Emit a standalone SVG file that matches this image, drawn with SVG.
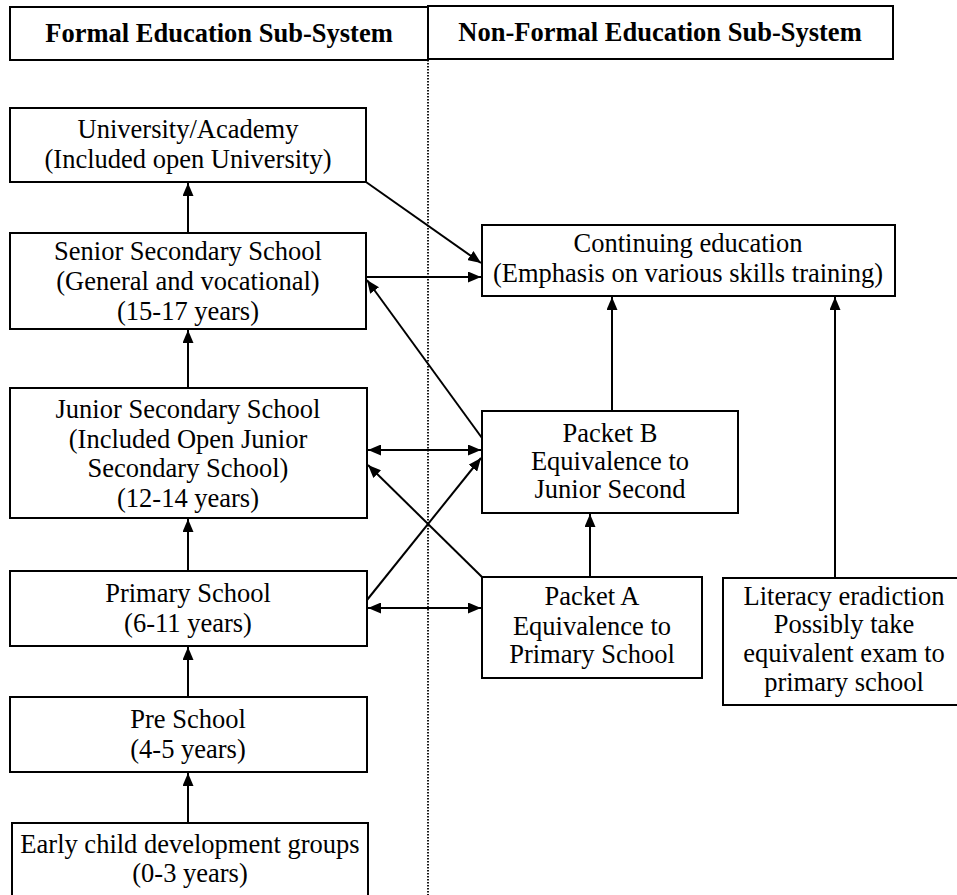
<svg xmlns="http://www.w3.org/2000/svg" width="957" height="895" viewBox="0 0 957 895">
  <defs>
    <marker id="arrow" viewBox="0 0 13 11" refX="13" refY="5.5" markerWidth="13" markerHeight="11" markerUnits="userSpaceOnUse" orient="auto-start-reverse">
      <path d="M0,0 L13,5.5 L0,11 z" fill="#000"/>
    </marker>
    <style>
      .box { fill: #fff; stroke: #000; stroke-width: 2; }
      .lbl { font-family: "Liberation Serif", "Times New Roman", serif; font-size: 26.5px; fill: #000; text-anchor: middle; }
      .hdr { font-weight: bold; }
      .edge { stroke: #000; stroke-width: 2; fill: none; marker-end: url(#arrow); }
      .both { marker-start: url(#arrow); }
      .divider { stroke: #000; stroke-width: 1.8; stroke-dasharray: 1.5 1.5; fill: none; }
    </style>
  </defs>
  <rect width="957" height="895" fill="#fff"/>

  <!-- column divider -->
  <line class="divider" x1="428" y1="60" x2="428" y2="895"/>

  <!-- column headers -->
  <g id="hdr-formal">
    <rect class="box" x="10" y="7" width="418" height="53"/>
    <text class="lbl hdr" x="219" y="42">Formal Education Sub-System</text>
  </g>
  <g id="hdr-nonformal">
    <rect class="box" x="428" y="6" width="465" height="53"/>
    <text class="lbl hdr" x="660" y="41">Non-Formal Education Sub-System</text>
  </g>

  <!-- formal ladder -->
  <g id="university">
    <rect class="box" x="10" y="108" width="356" height="74"/>
    <text class="lbl" x="188" y="138">University/Academy</text>
    <text class="lbl" x="188" y="168">(Included open University)</text>
  </g>
  <g id="senior">
    <rect class="box" x="10" y="233" width="356" height="96"/>
    <text class="lbl" x="188" y="260">Senior Secondary School</text>
    <text class="lbl" x="188" y="290">(General and vocational)</text>
    <text class="lbl" x="188" y="320">(15-17 years)</text>
  </g>
  <g id="junior">
    <rect class="box" x="10" y="388" width="357" height="130"/>
    <text class="lbl" x="188" y="418">Junior Secondary School</text>
    <text class="lbl" x="188" y="448">(Included Open Junior</text>
    <text class="lbl" x="188" y="477">Secondary School)</text>
    <text class="lbl" x="188" y="507">(12-14 years)</text>
  </g>
  <g id="primary">
    <rect class="box" x="10" y="571" width="357" height="75"/>
    <text class="lbl" x="188" y="602">Primary School</text>
    <text class="lbl" x="188" y="632">(6-11 years)</text>
  </g>
  <g id="preschool">
    <rect class="box" x="10" y="697" width="357" height="75"/>
    <text class="lbl" x="188" y="728">Pre School</text>
    <text class="lbl" x="188" y="758">(4-5 years)</text>
  </g>
  <g id="early-child">
    <rect class="box" x="12" y="823" width="356" height="80"/>
    <text class="lbl" x="190" y="853">Early child development groups</text>
    <text class="lbl" x="190" y="882">(0-3 years)</text>
  </g>

  <!-- non-formal side -->
  <g id="continuing">
    <rect class="box" x="482" y="225" width="413" height="71"/>
    <text class="lbl" x="688" y="252">Continuing education</text>
    <text class="lbl" x="688" y="282">(Emphasis on various skills training)</text>
  </g>
  <g id="packet-b">
    <rect class="box" x="482" y="411" width="256" height="102"/>
    <text class="lbl" x="610" y="442">Packet B</text>
    <text class="lbl" x="610" y="470">Equivalence to</text>
    <text class="lbl" x="610" y="498">Junior Second</text>
  </g>
  <g id="packet-a">
    <rect class="box" x="482" y="577" width="220" height="101"/>
    <text class="lbl" x="592" y="605">Packet A</text>
    <text class="lbl" x="592" y="635">Equivalence to</text>
    <text class="lbl" x="592" y="663">Primary School</text>
  </g>
  <g id="literacy">
    <rect class="box" x="723" y="578" width="240" height="127"/>
    <text class="lbl" x="844" y="605">Literacy eradiction</text>
    <text class="lbl" x="844" y="633">Possibly take</text>
    <text class="lbl" x="844" y="662">equivalent exam to</text>
    <text class="lbl" x="844" y="691">primary school</text>
  </g>

  <!-- connectors -->
  <g id="connectors">
    <line class="edge" x1="188" y1="233" x2="188" y2="183"/>
    <line class="edge" x1="188" y1="388" x2="188" y2="330"/>
    <line class="edge" x1="188" y1="571" x2="188" y2="519"/>
    <line class="edge" x1="188" y1="697" x2="188" y2="647"/>
    <line class="edge" x1="188" y1="823" x2="188" y2="773"/>

    <line class="edge" x1="366" y1="182" x2="481" y2="263"/>
    <line class="edge" x1="366" y1="277" x2="481" y2="277"/>
    <line class="edge" x1="482" y1="438" x2="367" y2="280"/>
    <line class="edge both" x1="368" y1="450" x2="481" y2="450"/>
    <line class="edge" x1="482" y1="577" x2="368" y2="465"/>
    <line class="edge" x1="367" y1="600" x2="481" y2="458"/>
    <line class="edge both" x1="368" y1="608" x2="481" y2="608"/>

    <line class="edge" x1="590" y1="577" x2="590" y2="514"/>
    <line class="edge" x1="612" y1="411" x2="612" y2="297"/>
    <line class="edge" x1="835" y1="578" x2="835" y2="297"/>
  </g>
</svg>
